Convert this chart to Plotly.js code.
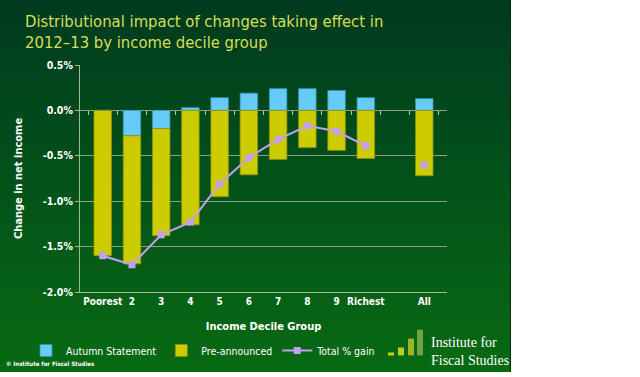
<!DOCTYPE html>
<html>
<head>
<meta charset="utf-8">
<script src="https://cdn.plot.ly/plotly-3.0.1.min.js"></script>
<style>
html,body{margin:0;padding:0;background:#ffffff;}
#wrap{position:relative;width:640px;height:377px;}
#bg{position:absolute;left:0;top:0;width:510px;height:372px;
 background:linear-gradient(to bottom,#003a1f 0%,#02501a 45%,#086a12 100%);
 border-right:1px solid #0a2a10;}
#chart{position:absolute;left:0;top:0;width:640px;height:377px;}
</style>
</head>
<body>
<div id="wrap"><div id="bg"></div><div id="chart"></div></div>
<script>
// ---- data ----
const categories = ['Poorest','2','3','4','5','6','7','8','9','Richest',' ','All'];
const autumnStatement = [0.00,-0.28,-0.20,0.03,0.14,0.19,0.24,0.24,0.22,0.14,null,0.13];
const preAnnounced   = [-1.60,-1.41,-1.18,-1.26,-0.95,-0.71,-0.54,-0.41,-0.44,-0.53,null,-0.72];
const totalGain      = [-1.60,-1.70,-1.37,-1.23,-0.81,-0.52,-0.32,-0.17,-0.23,-0.39,null,-0.60];
const yTickVals = [0.5,0,-0.5,-1,-1.5,-2];
const yTickText = ['0.5%','0.0%','-0.5%','-1.0%','-1.5%','-2.0%'];

const narrow = '"DejaVu Sans Condensed", "DejaVu Sans", sans-serif';
const white = '#ffffff';

const traces = [
  {type:'bar', name:'Autumn Statement', x:categories, y:autumnStatement,
   marker:{color:'#66ccf7', line:{color:'#3a8fb0', width:0.8}}},
  {type:'bar', name:'Pre-announced', x:categories, y:preAnnounced,
   marker:{color:'#cccc00', line:{color:'#8f8f10', width:0.8}}},
  {type:'scatter', mode:'lines+markers', name:'Total % gain', x:categories, y:totalGain,
   xaxis:'x2', connectgaps:false,
   line:{color:'#c4a0f0', width:2}, marker:{symbol:'square', size:7, color:'#c4a0f0'}}
];

const layout = {
  width:640, height:377,
  paper_bgcolor:'rgba(0,0,0,0)', plot_bgcolor:'rgba(0,0,0,0)',
  margin:{l:80, r:193, t:65, b:83},
  barmode:'relative', bargap:0.4,
  showlegend:true,
  title:{text:'Distributional impact of changes taking effect in<br>2012–13 by income decile group',
    x:25/640, xanchor:'left', y:1-27/377, yanchor:'middle',
    font:{family:narrow, size:16.5, color:'#d6de5a'}},
  xaxis:{type:'category', categoryorder:'array', categoryarray:categories,
    showgrid:false, showline:true, linecolor:'#a9b59a', linewidth:1,
    ticks:'', tickfont:{family:narrow, size:10, color:white, weight:'bold'},
    title:{text:'Income Decile Group', font:{family:narrow, size:11, color:white, weight:'bold'}, standoff:16},
    fixedrange:true},
  xaxis2:{type:'category', matches:'x', overlaying:'x', anchor:'free', position:0.8,
    showgrid:false, showline:false, showticklabels:false,
    ticks:'outside', tickson:'boundaries', ticklen:4, tickwidth:1, tickcolor:'#c0cab4', side:'bottom'},
  yaxis:{range:[-2,0.5], tickvals:yTickVals, ticktext:yTickText,
    showgrid:true, gridcolor:'#8d9f86', gridwidth:1, zeroline:false,
    showline:true, linecolor:'#a9b59a', linewidth:1, ticks:'outside', ticklen:4, tickcolor:'#a9b59a',
    tickfont:{family:narrow, size:10.5, color:white, weight:'bold'},
    title:{text:'Change in net income', font:{family:narrow, size:11, color:white, weight:'bold'}, standoff:17},
    fixedrange:true},
  legend:{orientation:'h', x:(26-80)/367, xanchor:'left', y:(294-353)/229, yanchor:'middle',
    font:{family:narrow, size:10.5, color:white}, bgcolor:'rgba(0,0,0,0)',
    itemwidth:30, tracegroupgap:0},
  shapes:[
    {type:'rect', xref:'paper', yref:'paper', x0:(388-80)/367, x1:(394-80)/367, y0:(294-358)/229, y1:(294-355)/229, fillcolor:'#c8d21e', line:{width:0}},
    {type:'rect', xref:'paper', yref:'paper', x0:(398-80)/367, x1:(404-80)/367, y0:(294-358)/229, y1:(294-350)/229, fillcolor:'#c2cc20', line:{width:0}},
    {type:'rect', xref:'paper', yref:'paper', x0:(408-80)/367, x1:(414-80)/367, y0:(294-358)/229, y1:(294-341)/229, fillcolor:'#9fb42c', line:{width:0}},
    {type:'rect', xref:'paper', yref:'paper', x0:(417-80)/367, x1:(423-80)/367, y0:(294-358)/229, y1:(294-332)/229, fillcolor:'#74a048', line:{width:0}}
  ],
  annotations:[
    {text:'Institute for<br>Fiscal Studies', xref:'paper', yref:'paper', x:(429-80)/367, xanchor:'left',
     y:(294-354)/229, yanchor:'middle', showarrow:false, align:'left',
     font:{family:'"Liberation Serif", "DejaVu Serif", serif', size:14, color:white}},
    {text:'© Institute for Fiscal Studies', xref:'paper', yref:'paper', x:(4-80)/367, xanchor:'left',
     y:(294-366)/229, yanchor:'middle', showarrow:false,
     font:{family:narrow, size:6, color:white, weight:'bold'}}
  ]
};

Plotly.newPlot('chart', traces, layout, {displayModeBar:false, staticPlot:true});
</script>
</body>
</html>
